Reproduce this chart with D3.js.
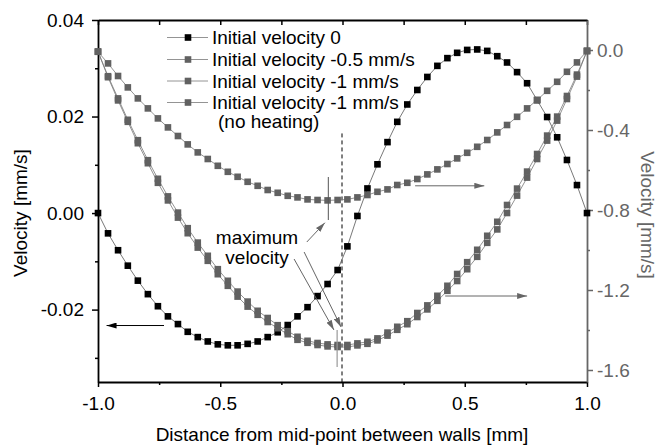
<!DOCTYPE html>
<html>
<head>
<meta charset="utf-8">
<script src="https://cdn.jsdelivr.net/npm/d3@7"></script>
<style>
  body { margin: 0; background: #fff; }
  text { font-family: "Liberation Sans", Arial, sans-serif; }
</style>
</head>
<body>
<div id="viz"></div>
<script>
// distance from mid-point [mm], 50 samples
const distance = [-1.000, -0.959, -0.918, -0.878, -0.837, -0.796, -0.755, -0.714, -0.673, -0.633,
  -0.592, -0.551, -0.510, -0.469, -0.429, -0.388, -0.347, -0.306, -0.265, -0.224,
  -0.184, -0.143, -0.102, -0.061, -0.020, 0.020, 0.061, 0.102, 0.143, 0.184,
  0.224, 0.265, 0.306, 0.347, 0.388, 0.429, 0.469, 0.510, 0.551, 0.592,
  0.633, 0.673, 0.714, 0.755, 0.796, 0.837, 0.878, 0.918, 0.959, 1.000];

// left axis [mm/s]
const velInit0 = [0.0000, -0.0042, -0.0077, -0.0109, -0.0140, -0.0168, -0.0193, -0.0214, -0.0230, -0.0246,
  -0.0257, -0.0266, -0.0272, -0.0274, -0.0274, -0.0271, -0.0266, -0.0257, -0.0247, -0.0232,
  -0.0214, -0.0195, -0.0172, -0.0147, -0.0118, -0.0069, -0.0006, 0.0051, 0.0101, 0.0147,
  0.0189, 0.0225, 0.0255, 0.0282, 0.0305, 0.0321, 0.0332, 0.0338, 0.0339, 0.0336,
  0.0325, 0.0312, 0.0292, 0.0269, 0.0234, 0.0199, 0.0157, 0.0110, 0.0058, 0.0000];

// right axis [mm/s]
const velInitHalf = [-0.009, -0.067, -0.130, -0.187, -0.242, -0.292, -0.342, -0.387, -0.430, -0.472,
  -0.512, -0.545, -0.579, -0.609, -0.634, -0.659, -0.679, -0.700, -0.714, -0.729,
  -0.737, -0.747, -0.750, -0.752, -0.750, -0.747, -0.737, -0.725, -0.709, -0.697,
  -0.675, -0.664, -0.645, -0.622, -0.597, -0.570, -0.542, -0.514, -0.484, -0.450,
  -0.412, -0.375, -0.334, -0.292, -0.250, -0.204, -0.159, -0.109, -0.062, -0.004];

const velInitOne = [-0.008, -0.131, -0.242, -0.349, -0.451, -0.551, -0.644, -0.732, -0.813, -0.891,
  -0.963, -1.029, -1.096, -1.154, -1.208, -1.258, -1.304, -1.340, -1.376, -1.406,
  -1.434, -1.454, -1.465, -1.472, -1.475, -1.475, -1.467, -1.459, -1.442, -1.413,
  -1.384, -1.356, -1.315, -1.277, -1.229, -1.179, -1.120, -1.061, -0.999, -0.929,
  -0.859, -0.775, -0.693, -0.608, -0.520, -0.428, -0.333, -0.230, -0.123, -0.005];

const velInitOneNoHeat = [-0.008, -0.136, -0.252, -0.359, -0.466, -0.566, -0.664, -0.752, -0.838, -0.916,
  -0.988, -1.054, -1.121, -1.179, -1.233, -1.283, -1.324, -1.360, -1.391, -1.421,
  -1.449, -1.464, -1.475, -1.482, -1.485, -1.485, -1.477, -1.469, -1.452, -1.428,
  -1.399, -1.371, -1.335, -1.297, -1.254, -1.204, -1.155, -1.096, -1.034, -0.964,
  -0.897, -0.815, -0.728, -0.638, -0.545, -0.453, -0.353, -0.245, -0.133, -0.005];

const legendLabels = ["Initial velocity 0", "Initial velocity -0.5 mm/s",
  "Initial velocity -1 mm/s", "Initial velocity -1 mm/s"];

const xTicks = [-1, -0.5, 0, 0.5, 1];
const xMinorTicks = [-0.75, -0.25, 0.25, 0.75];
const leftTicks = [-0.02, 0, 0.02, 0.04];
const leftMinorTicks = [-0.03, -0.01, 0.01, 0.03];
const rightTicks = [-1.6, -1.2, -0.8, -0.4, 0];
const rightMinorTicks = [-1.4, -1.0, -0.6, -0.2];

const width = 659, height = 445;
const grey = "#616161";
const fs = "19px";

const svg = d3.select("#viz").append("svg")
  .attr("width", width)
  .attr("height", height);

const x = d3.scaleLinear().domain([-1, 1]).range([98, 587]);
const yL = d3.scaleLinear().domain([-0.035, 0.04]).range([382, 20]);
const yR = d3.scaleLinear().domain([-1.66, 0.15]).range([382, 20]);

// arrow heads
const defs = svg.append("defs");
[["arrBlack", "#000"], ["arrGrey", "#666"]].forEach(([id, c]) => {
  defs.append("marker")
    .attr("id", id)
    .attr("viewBox", "0 0 10 6")
    .attr("refX", 10).attr("refY", 3)
    .attr("markerWidth", 10).attr("markerHeight", 6)
    .attr("markerUnits", "userSpaceOnUse")
    .attr("orient", "auto")
    .append("path").attr("d", "M0,0L10,3L0,6Z").attr("fill", c);
});

// axes
const styleAxis = (g, col) => {
  g.select(".domain").attr("stroke", col).attr("stroke-width", 1.8);
  g.selectAll(".tick line").attr("stroke", col).attr("stroke-width", 1.5);
  g.selectAll(".tick text").attr("fill", col).style("font-size", fs);
};

const gB = svg.append("g").attr("transform", "translate(0,382)")
  .call(d3.axisBottom(x).tickValues(xTicks).tickSize(5).tickSizeOuter(0).tickPadding(10)
    .tickFormat(d => d.toFixed(1)));
styleAxis(gB, "#000");
svg.append("g").attr("transform", "translate(0,382)")
  .call(d3.axisBottom(x).tickValues(xMinorTicks).tickSize(3).tickFormat(""))
  .call(g => { g.select(".domain").remove(); g.selectAll("line").attr("stroke", "#000").attr("stroke-width", 1.5); });

const gT = svg.append("g").attr("transform", "translate(0,20)")
  .call(d3.axisTop(x).tickValues(xTicks.concat(xMinorTicks)).tickSize(-5).tickSizeOuter(0).tickFormat(""));
styleAxis(gT, "#000");

const gL = svg.append("g").attr("transform", "translate(98,0)")
  .call(d3.axisLeft(yL).tickValues(leftTicks).tickSize(6).tickSizeOuter(0).tickPadding(8)
    .tickFormat(d => d.toFixed(2)));
styleAxis(gL, "#000");
svg.append("g").attr("transform", "translate(98,0)")
  .call(d3.axisLeft(yL).tickValues(leftMinorTicks).tickSize(3).tickFormat(""))
  .call(g => { g.select(".domain").remove(); g.selectAll("line").attr("stroke", "#000").attr("stroke-width", 1.5); });

const gR = svg.append("g").attr("transform", "translate(587,0)")
  .call(d3.axisRight(yR).tickValues(rightTicks).tickSize(6).tickSizeOuter(0).tickPadding(4)
    .tickFormat(d => d.toFixed(1)));
styleAxis(gR, "#666");
svg.append("g").attr("transform", "translate(587,0)")
  .call(d3.axisRight(yR).tickValues(rightMinorTicks).tickSize(3).tickFormat(""))
  .call(g => { g.select(".domain").remove(); g.selectAll("line").attr("stroke", "#666").attr("stroke-width", 1.5); });

// axis titles
svg.append("text")
  .attr("transform", "translate(27,213) rotate(-90)")
  .attr("text-anchor", "middle").style("font-size", fs).attr("fill", "#000")
  .text("Velocity [mm/s]");
svg.append("text")
  .attr("transform", "translate(641,215) rotate(90)")
  .attr("text-anchor", "middle").style("font-size", fs).attr("fill", "#666")
  .text("Velocity [mm/s]");
svg.append("text")
  .attr("x", 342).attr("y", 441)
  .attr("text-anchor", "middle").style("font-size", fs).attr("fill", "#000")
  .text("Distance from mid-point between walls [mm]");

// dashed mid line
svg.append("line")
  .attr("x1", x(-0.002)).attr("x2", x(-0.002))
  .attr("y1", yL(0.0165)).attr("y2", yL(-0.035))
  .attr("stroke", "#000").attr("stroke-width", 1).attr("stroke-dasharray", "4,3");

// series
const series = [
  { vals: velInit0, y: yL, fill: "#000", line: "#555" },
  { vals: velInitHalf, y: yR, fill: grey, line: "#777" },
  { vals: velInitOne, y: yR, fill: grey, line: "#777" },
  { vals: velInitOneNoHeat, y: yR, fill: grey, line: "#777" }
];
const ms = 6.6;

series.forEach(s => {
  const pts = distance.map((d, i) => [d, s.vals[i]]);
  svg.append("path")
    .datum(pts)
    .attr("fill", "none")
    .attr("stroke", s.line)
    .attr("stroke-width", 0.8)
    .attr("d", d3.line().x(d => x(d[0])).y(d => s.y(d[1])));
});
series.forEach(s => {
  const pts = distance.map((d, i) => [d, s.vals[i]]);
  svg.append("g").selectAll("rect")
    .data(pts).join("rect")
    .attr("x", d => x(d[0]) - ms / 2)
    .attr("y", d => s.y(d[1]) - ms / 2)
    .attr("width", ms).attr("height", ms)
    .attr("fill", s.fill);
});

// annotations: curve-to-axis arrows
const arrow = (x1, y1, x2, y2, col, id) => svg.append("line")
  .attr("x1", x1).attr("y1", y1).attr("x2", x2).attr("y2", y2)
  .attr("stroke", col).attr("stroke-width", 1)
  .attr("marker-end", `url(#${id})`);

arrow(x(-0.73), yL(-0.0233), x(-0.965), yL(-0.0233), "#000", "arrBlack");
arrow(x(0.297), yR(-0.679), x(0.58), yR(-0.679), "#666", "arrGrey");
arrow(x(0.42), yR(-1.23), x(0.755), yR(-1.23), "#666", "arrGrey");

// maximum velocity markers
svg.append("line")
  .attr("x1", x(-0.058)).attr("x2", x(-0.058))
  .attr("y1", yR(-0.635)).attr("y2", yR(-0.85))
  .attr("stroke", "#555").attr("stroke-width", 1);
svg.append("line")
  .attr("x1", x(-0.022)).attr("x2", x(-0.022))
  .attr("y1", yR(-1.40)).attr("y2", yR(-1.585))
  .attr("stroke", "#999").attr("stroke-width", 1.2);

arrow(x(-0.146), yL(-0.0060), x(-0.072), yL(-0.0020), "#666", "arrGrey");
arrow(x(-0.198), yR(-1.045), x(-0.035), yR(-1.40), "#666", "arrGrey");
arrow(x(-0.157), yR(-1.01), x(-0.006), yR(-1.385), "#666", "arrGrey");

svg.append("text").attr("x", 257).attr("y", 244)
  .attr("text-anchor", "middle").style("font-size", fs).attr("fill", "#000")
  .text("maximum");
svg.append("text").attr("x", 257).attr("y", 264)
  .attr("text-anchor", "middle").style("font-size", fs).attr("fill", "#000")
  .text("velocity");

// legend
const legendRows = [37.5, 59.5, 81, 102.5];
const legendFill = ["#000", grey, grey, grey];
const leg = svg.append("g");
legendLabels.forEach((lab, i) => {
  const cy = legendRows[i];
  leg.append("line").attr("x1", 167).attr("x2", 208).attr("y1", cy).attr("y2", cy)
    .attr("stroke", "#888").attr("stroke-width", 0.9);
  leg.append("rect").attr("x", 188 - ms / 2).attr("y", cy - ms / 2)
    .attr("width", ms).attr("height", ms).attr("fill", legendFill[i]);
  leg.append("text").attr("x", 212).attr("y", cy + 6.5)
    .style("font-size", fs).attr("fill", "#000").text(lab);
});
leg.append("text").attr("x", 218).attr("y", 128)
  .style("font-size", fs).attr("fill", "#000").text("(no heating)");
</script>
</body>
</html>
